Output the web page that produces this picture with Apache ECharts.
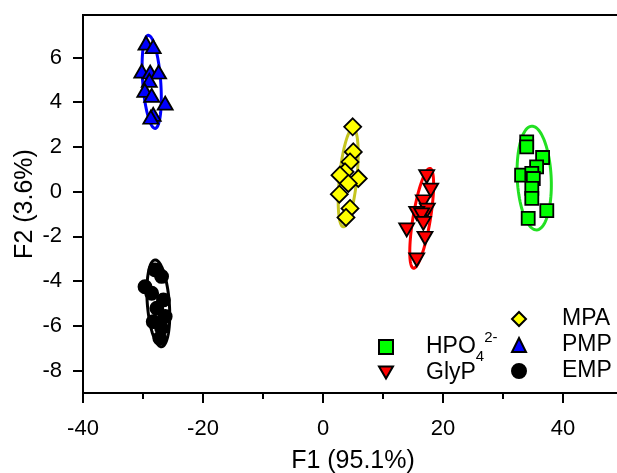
<!DOCTYPE html>
<html>
<head>
<meta charset="utf-8">
<script src="https://cdn.jsdelivr.net/npm/echarts@6/dist/echarts.min.js"></script>
<style>
  html, body { margin: 0; padding: 0; background: #fff; }
  #chart { width: 617px; height: 473px; }
</style>
</head>
<body>
<div id="chart"></div>
<script>
// Score coordinates (F1, F2) for each sample group
const hpo4Points = [[33.95, 2.23], [33.95, 2.0], [36.6, 1.53], [35.6, 1.11], [33.1, 0.74], [34.8, 0.82],
                    [35.05, 0.59], [34.8, 0.15], [34.8, -0.30], [37.3, -0.85], [34.2, -1.19]];
const glypPoints = [[17.28, 0.67], [17.95, 0.07], [16.72, -0.45], [17.38, -0.82], [15.62, -0.97], [16.45, -1.04],
                    [16.72, -1.42], [13.95, -1.71], [17.0, -2.08], [15.62, -3.05]];
const mpaPoints  = [[4.95, 2.90], [5.05, 1.78], [4.5, 1.33], [3.67, 0.89], [2.83, 0.74], [5.88, 0.59],
                    [4.22, 0.37], [2.72, -0.11], [4.5, -0.75], [3.83, -1.15]];
const pmpPoints  = [[-29.5, 6.64], [-28.3, 6.49], [-30.2, 5.39], [-28.8, 5.35], [-27.4, 5.35], [-28.95, 4.98],
                    [-29.7, 4.53], [-28.55, 4.31], [-26.3, 3.96], [-28.3, 3.46], [-28.7, 3.33]];
const empPoints  = [[-29.67, -4.25], [-28.0, -3.5], [-26.9, -3.79], [-28.55, -4.54], [-26.6, -4.84], [-27.7, -5.21],
                    [-26.3, -5.58], [-28.3, -5.81], [-26.9, -6.1], [-27.2, -6.55]];

// Confidence ellipses: centre, end of the major semi-axis, minor semi-axis (F1 units)
const ellipseGroups     = ['HPO4', 'GlyP', 'MPA', 'PMP', 'EMP'];
const ellipseCenters    = [[35.2, 0.61], [16.45, -1.19], [4.2, 0.63], [-28.55, 4.91], [-27.45, -4.99]];
const ellipseTips       = [[34.78, 2.93], [17.83, 1.04], [5.03, 2.83], [-29.12, 6.99], [-28.0, -3.05]];
const ellipseHalfWidths = [2.83, 1.45, 1.45, 1.5, 1.83];

// Axis ticks
const xTicks      = [-40, -20, 0, 20, 40];
const xMinorTicks = [-30, -10, 10, 30];
const yTicks      = [-8, -6, -4, -2, 0, 2, 4, 6];

const FONT = '"Liberation Sans", Arial, sans-serif';
const groupColors = { HPO4: '#00ff00', GlyP: '#ff0000', MPA: '#ffff00', PMP: '#0000ff', EMP: '#000000' };
const ellipseColors = { HPO4: '#22e022', GlyP: '#ff0000', MPA: '#c4c420', PMP: '#0000ff', EMP: '#000000' };
const DOWN_TRIANGLE = 'path://M0,0L2,0L1,1.732Z';

const ellipseData = ellipseCenters.map((c, i) =>
  [c[0], c[1], ellipseTips[i][0], ellipseTips[i][1], ellipseHalfWidths[i]]);

function renderEllipse(params, api) {
  const c = api.coord([api.value(0), api.value(1)]);
  const t = api.coord([api.value(2), api.value(3)]);
  const r = api.size([api.value(4), 0])[0];
  const ux = t[0] - c[0], uy = t[1] - c[1];
  const len = Math.hypot(ux, uy);
  const nx = -uy / len, ny = ux / len;
  const pts = [];
  for (let i = 0; i <= 90; i++) {
    const a = (i / 90) * Math.PI * 2;
    pts.push([c[0] + ux * Math.cos(a) + nx * r * Math.sin(a),
              c[1] + uy * Math.cos(a) + ny * r * Math.sin(a)]);
  }
  return {
    type: 'polygon',
    shape: { points: pts },
    style: { fill: 'none', stroke: ellipseColors[ellipseGroups[params.dataIndex]], lineWidth: 3 }
  };
}

function scatter(name, data, symbol, size) {
  return {
    name: name,
    type: 'scatter',
    data: data,
    symbol: symbol,
    symbolSize: size,
    z: 3,
    itemStyle: { color: groupColors[name], borderColor: '#000', borderWidth: 1.8, opacity: 1 },
    emphasis: { disabled: true }
  };
}

// Sub/superscript tokens use a taller line so they sit below/above the main text
const legendRich = {
  t:   { fontFamily: FONT, fontSize: 23, lineHeight: 26, color: '#000' },
  sub: { fontFamily: FONT, fontSize: 15, lineHeight: 34, verticalAlign: 'bottom', color: '#000' },
  sup: { fontFamily: FONT, fontSize: 15, lineHeight: 34, verticalAlign: 'top', color: '#000' }
};
function legendText(name) {
  if (name === 'HPO4') return '{t|HPO}{sub|4}{sup|2-}';
  return '{t|' + name + '}';
}

const chart = echarts.init(document.getElementById('chart'), null, { renderer: 'canvas' });
chart.setOption({
  animation: false,
  backgroundColor: '#fff',
  grid: {
    left: 83, top: 15, width: 540, height: 378, outerBoundsMode: 'none', containLabel: false,
    show: true, borderColor: '#000', borderWidth: 2, backgroundColor: 'transparent'
  },
  xAxis: [{
    type: 'value', min: -40, max: 50, interval: 20,
    name: 'F1 (95.1%)', nameLocation: 'middle', nameGap: 56, nameMoveOverlap: false,
    nameTextStyle: { fontFamily: FONT, fontSize: 25, color: '#000' },
    axisLine: { onZero: false, lineStyle: { color: '#000', width: 2 } },
    axisTick: { customValues: xTicks, length: 10, lineStyle: { color: '#000', width: 2 } },
    axisLabel: { customValues: xTicks, margin: 25, fontFamily: FONT, fontSize: 22, color: '#000' },
    splitLine: { show: false }
  }, {
    type: 'value', min: -40, max: 50, position: 'bottom',
    axisLine: { show: false, onZero: false },
    axisTick: { customValues: xMinorTicks, length: 6, lineStyle: { color: '#000', width: 2 } },
    axisLabel: { show: false },
    splitLine: { show: false }
  }],
  yAxis: {
    type: 'value', min: -9, max: 7.9,
    name: 'F2 (3.6%)', nameLocation: 'middle', nameGap: 45, nameMoveOverlap: false,
    nameTextStyle: { fontFamily: FONT, fontSize: 25, color: '#000' },
    axisLine: { onZero: false, lineStyle: { color: '#000', width: 2 } },
    axisTick: { customValues: yTicks, length: 10, lineStyle: { color: '#000', width: 2 } },
    axisLabel: { customValues: yTicks, margin: 21, fontFamily: FONT, fontSize: 22, color: '#000' },
    splitLine: { show: false }
  },
  legend: [{
    data: ['HPO4', 'GlyP'],
    orient: 'vertical', left: 378, top: 330, padding: 0, itemGap: -4.5,
    itemWidth: 14, itemHeight: 14, selectedMode: false,
    formatter: legendText,
    textStyle: { fontFamily: FONT, fontSize: 23, lineHeight: 26, color: '#000', padding: [0, 0, 0, 28], rich: legendRich }
  }, {
    data: ['MPA', 'PMP', 'EMP'],
    orient: 'vertical', left: 511, top: 306, padding: 0, itemGap: 0,
    itemWidth: 14, itemHeight: 14, selectedMode: false,
    formatter: legendText,
    textStyle: { fontFamily: FONT, fontSize: 23, lineHeight: 26, color: '#000', padding: [0, 0, 0, 31], rich: legendRich }
  }],
  series: [
    {
      name: 'ellipses', type: 'custom', coordinateSystem: 'cartesian2d',
      data: ellipseData, encode: { x: [0, 2], y: [1, 3] }, renderItem: renderEllipse, z: 1, silent: true
    },
    scatter('HPO4', hpo4Points, 'rect', 13),
    scatter('GlyP', glypPoints, DOWN_TRIANGLE, [15, 13]),
    scatter('MPA', mpaPoints, 'diamond', 17),
    scatter('PMP', pmpPoints, 'triangle', [15, 13]),
    scatter('EMP', empPoints, 'circle', 13)
  ]
});
</script>
</body>
</html>
